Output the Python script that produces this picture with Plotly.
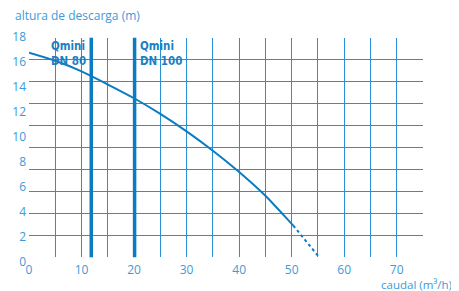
import plotly.graph_objects as go

# Data
flow_solid = [0, 5, 10, 15, 20, 25, 30, 35, 40, 45, 50, 50.3]
head_solid = [16.75, 16.1, 15.25, 14.2, 13.1, 11.85, 10.45, 8.9, 7.2, 5.3, 3.05, 2.92]
flow_dotted = [50.3, 55]
head_dotted = [2.92, 0.5]
model_flows = [11.85, 20.1]
model_labels = ["Qmini<br>DN 80", "Qmini<br>DN 100"]
x_ticks = [0, 10, 20, 30, 40, 50, 60, 70]
y_ticks = [0, 2, 4, 6, 8, 10, 12, 14, 16, 18]

BLUE = "#0a7cc2"
GRID = "#2a90d4"
LABEL = "#3c9ad8"
FONT = "Open Sans"
NARROW = dict(family="Liberation Sans Narrow, DejaVu Sans Condensed, Arial Narrow",
              size=11.5, color="#1c7fc4", weight="bold")

# the page body adds an 8px offset; figure is sized to fill the rest of the window
W, H = 451, 283
PL, PR, PT, PB = 21, 415, 29, 254   # plot area (data subplot) in figure pixels
GRID_TOP, GRID_BOT = 29.7, 249.3

fig = go.Figure()
# grid subplot (x / y) - placeholder trace so the subplot is drawn
fig.add_trace(go.Scatter(x=[None], y=[None], xaxis="x", yaxis="y", showlegend=False, hoverinfo="skip"))
# data subplot (x2 / y2)
fig.add_trace(go.Scatter(x=flow_solid, y=head_solid, xaxis="x2", yaxis="y2", mode="lines",
                         line=dict(color=BLUE, width=2, shape="spline", smoothing=0.8),
                         showlegend=False, hoverinfo="skip"))
fig.add_trace(go.Scatter(x=flow_dotted, y=head_dotted, xaxis="x2", yaxis="y2", mode="lines",
                         line=dict(color=BLUE, width=2, dash="dot"),
                         showlegend=False, hoverinfo="skip"))

for q in model_flows:
    fig.add_shape(type="line", xref="x2", yref="y domain", x0=q, x1=q, y0=0, y1=1,
                  line=dict(color=BLUE, width=3.5), layer="above")

fig.add_annotation(x=model_flows[0], y=18, xref="x2", yref="y2", text=model_labels[0],
                   xanchor="right", yanchor="top", align="left", showarrow=False, xshift=-3,
                   font=NARROW)
fig.add_annotation(x=model_flows[1], y=18, xref="x2", yref="y2", text=model_labels[1],
                   xanchor="left", yanchor="top", align="left", showarrow=False, xshift=3,
                   font=NARROW)

pw, ph = PR - PL, PB - PT
fig.add_annotation(x=(13 - 8 - PL) / pw, y=(PB - (15 - 8)) / ph, xref="paper", yref="paper",
                   text="altura de descarga (m)", xanchor="left", yanchor="middle",
                   showarrow=False, font=dict(family=FONT, size=12, color=LABEL))
fig.add_annotation(x=(453 - 8 - PL) / pw, y=(PB - (284.5 - 8)) / ph, xref="paper", yref="paper",
                   text="caudal (m³/h)", xanchor="right", yanchor="middle",
                   showarrow=False, borderpad=0,
                   font=dict(family=FONT, size=11.5, color=LABEL))

fig.update_layout(
    width=W, height=H,
    margin=dict(l=PL, r=W - PR, t=PT, b=H - PB, pad=0),
    paper_bgcolor="white", plot_bgcolor="rgba(0,0,0,0)",
    showlegend=False,
    xaxis=dict(domain=[0, 1], range=[0, 75], anchor="y", tickvals=x_ticks,
               showgrid=True, gridcolor=GRID, gridwidth=1,
               minor=dict(dtick=5, showgrid=True, gridcolor=GRID, gridwidth=1),
               showline=False, zeroline=False, ticks="", automargin=False,
               ticklabelstandoff=4,
               tickfont=dict(family=FONT, size=12, color=LABEL)),
    yaxis=dict(domain=[(PB - GRID_BOT) / ph, (PB - GRID_TOP) / ph], range=[0, 10], dtick=1,
               anchor="x", showgrid=True, gridcolor=GRID, gridwidth=1, automargin=False,
               showticklabels=False, ticks="", zeroline=False, showline=False),
    xaxis2=dict(domain=[0, 1], range=[0, 75], anchor="y2", visible=False, automargin=False),
    yaxis2=dict(domain=[0, 1], range=[0, 18], anchor="x2", tickvals=y_ticks,
                showgrid=False, zeroline=False, showline=False, ticks="", automargin=False,
                ticklabelstandoff=2,
                tickfont=dict(family=FONT, size=12, color=LABEL)),
)

fig.write_html("out.html")
